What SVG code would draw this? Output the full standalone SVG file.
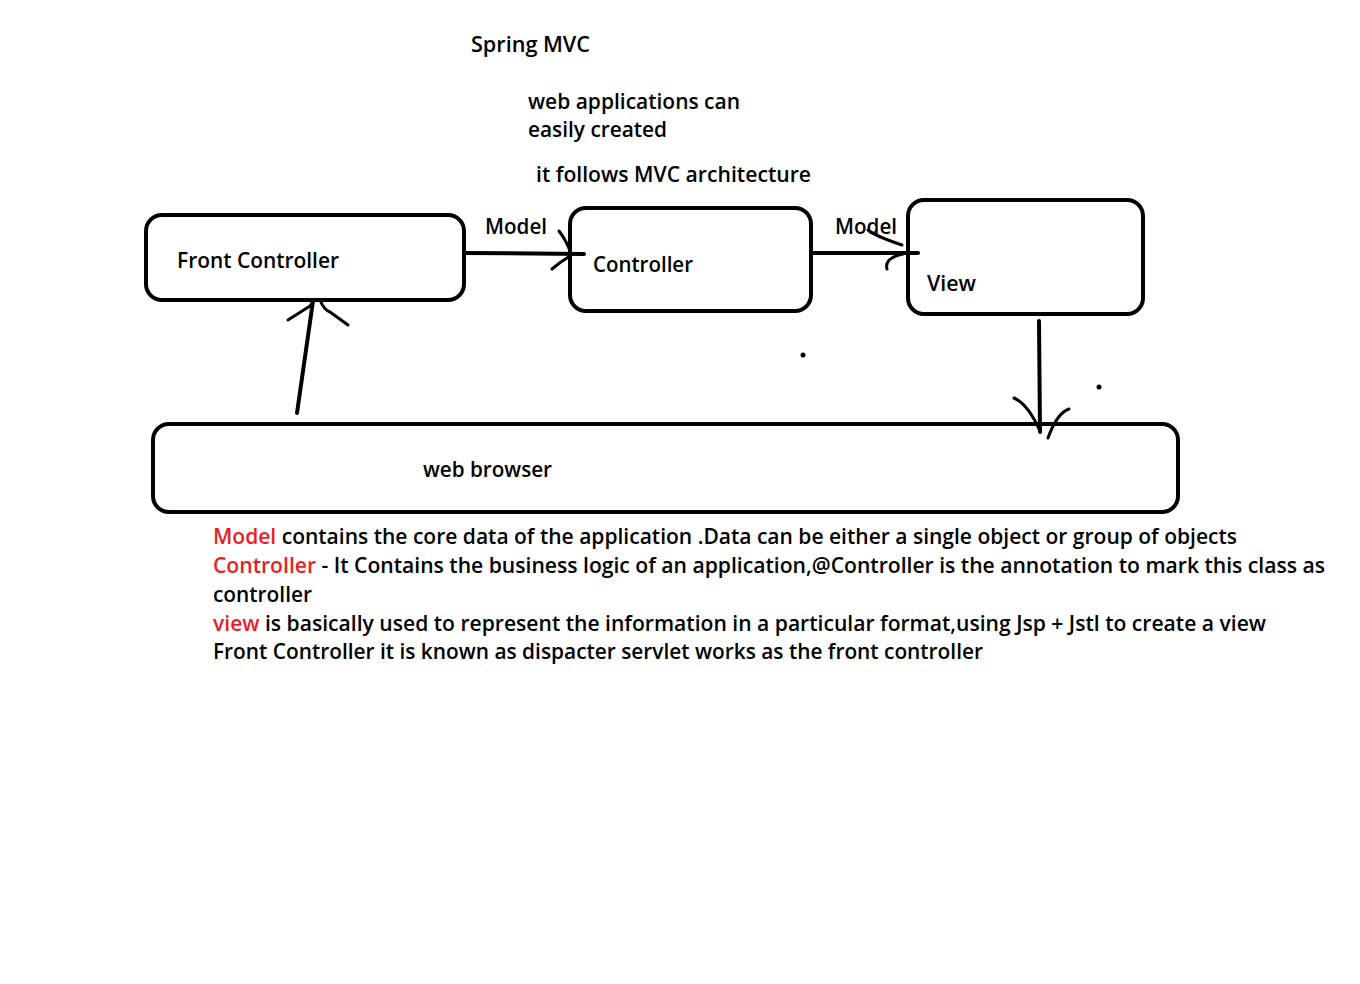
<svg xmlns="http://www.w3.org/2000/svg" width="1360" height="984" viewBox="0 0 1360 984">
<style>
text{font-family:"Open Sans","Noto Sans","Liberation Sans",sans-serif;font-size:21px;font-weight:600;fill:#000}
.box{fill:none;stroke:#000;stroke-width:4}
.ln{fill:none;stroke:#000;stroke-width:4;stroke-linecap:round}
.hd{fill:none;stroke:#000;stroke-width:3;stroke-linecap:round;stroke-linejoin:round}
.red{fill:#ED1C24}
</style>
<rect width="1360" height="984" fill="#fff"/>
<g id="titles">
<text x="471" y="52" textLength="119" lengthAdjust="spacingAndGlyphs">Spring MVC</text>
<text x="528" y="109" textLength="212" lengthAdjust="spacingAndGlyphs">web applications can</text>
<text x="528" y="137" textLength="139" lengthAdjust="spacingAndGlyphs">easily created</text>
<text x="536" y="182" textLength="275" lengthAdjust="spacingAndGlyphs">it follows MVC architecture</text>
</g>
<g id="front-controller">
<rect class="box" x="146" y="215" width="318" height="85" rx="16"/>
<text x="177" y="268" textLength="162" lengthAdjust="spacingAndGlyphs">Front Controller</text>
</g>
<g id="controller">
<rect class="box" x="570" y="208" width="241" height="103" rx="16"/>
<text x="593" y="272" textLength="100" lengthAdjust="spacingAndGlyphs">Controller</text>
</g>
<g id="view">
<rect class="box" x="908" y="200" width="235" height="114" rx="16"/>
<text x="927" y="291" textLength="49" lengthAdjust="spacingAndGlyphs">View</text>
</g>
<g id="web-browser">
<rect class="box" x="153" y="424" width="1025" height="88" rx="16"/>
<text x="423" y="477" textLength="129" lengthAdjust="spacingAndGlyphs">web browser</text>
</g>
<g id="connectors">
<line class="ln" x1="466" y1="253" x2="584" y2="254"/>
<path class="hd" d="M559,231 Q566,240 571,253"/>
<path class="hd" d="M552,269 Q560,262 570,256"/>
<text x="485" y="234" textLength="62" lengthAdjust="spacingAndGlyphs">Model</text>
<line class="ln" x1="811" y1="253" x2="918" y2="253"/>
<text x="835" y="234" textLength="62" lengthAdjust="spacingAndGlyphs">Model</text>
<path class="hd" d="M868,230 Q875,236 902,245"/>
<path class="hd" d="M887,269 Q884,258 903,254"/>
<line class="ln" x1="297" y1="413" x2="313" y2="301"/>
<path class="hd" d="M288,320 L310,306 L314,300"/>
<path class="hd" d="M320,300 Q324,310 330,312 L348,325"/>
<line class="ln" x1="1039" y1="321" x2="1040" y2="432"/>
<path class="hd" d="M1014,398 Q1028,404 1040,431"/>
<path class="hd" d="M1069,409 Q1057,413 1048,438"/>
</g>
<g id="dots">
<circle cx="803" cy="355" r="2.5"/>
<circle cx="1099" cy="387" r="2.5"/>
</g>
<g id="notes">
<text x="213" y="544" textLength="1024" lengthAdjust="spacingAndGlyphs"><tspan class="red">Model</tspan> contains the core data of the application .Data can be either a single object or group of objects</text>
<text x="213" y="573" textLength="1112" lengthAdjust="spacingAndGlyphs"><tspan class="red">Controller</tspan> - It Contains the business logic of an application,@Controller is the annotation to mark this class as</text>
<text x="213" y="602" textLength="99" lengthAdjust="spacingAndGlyphs">controller</text>
<text x="213" y="631" textLength="1053" lengthAdjust="spacingAndGlyphs"><tspan class="red">view</tspan> is basically used to represent the information in a particular format,using Jsp + Jstl to create a view</text>
<text x="213" y="659" textLength="770" lengthAdjust="spacingAndGlyphs">Front Controller it is known as dispacter servlet works as the front controller</text>
</g>
</svg>
